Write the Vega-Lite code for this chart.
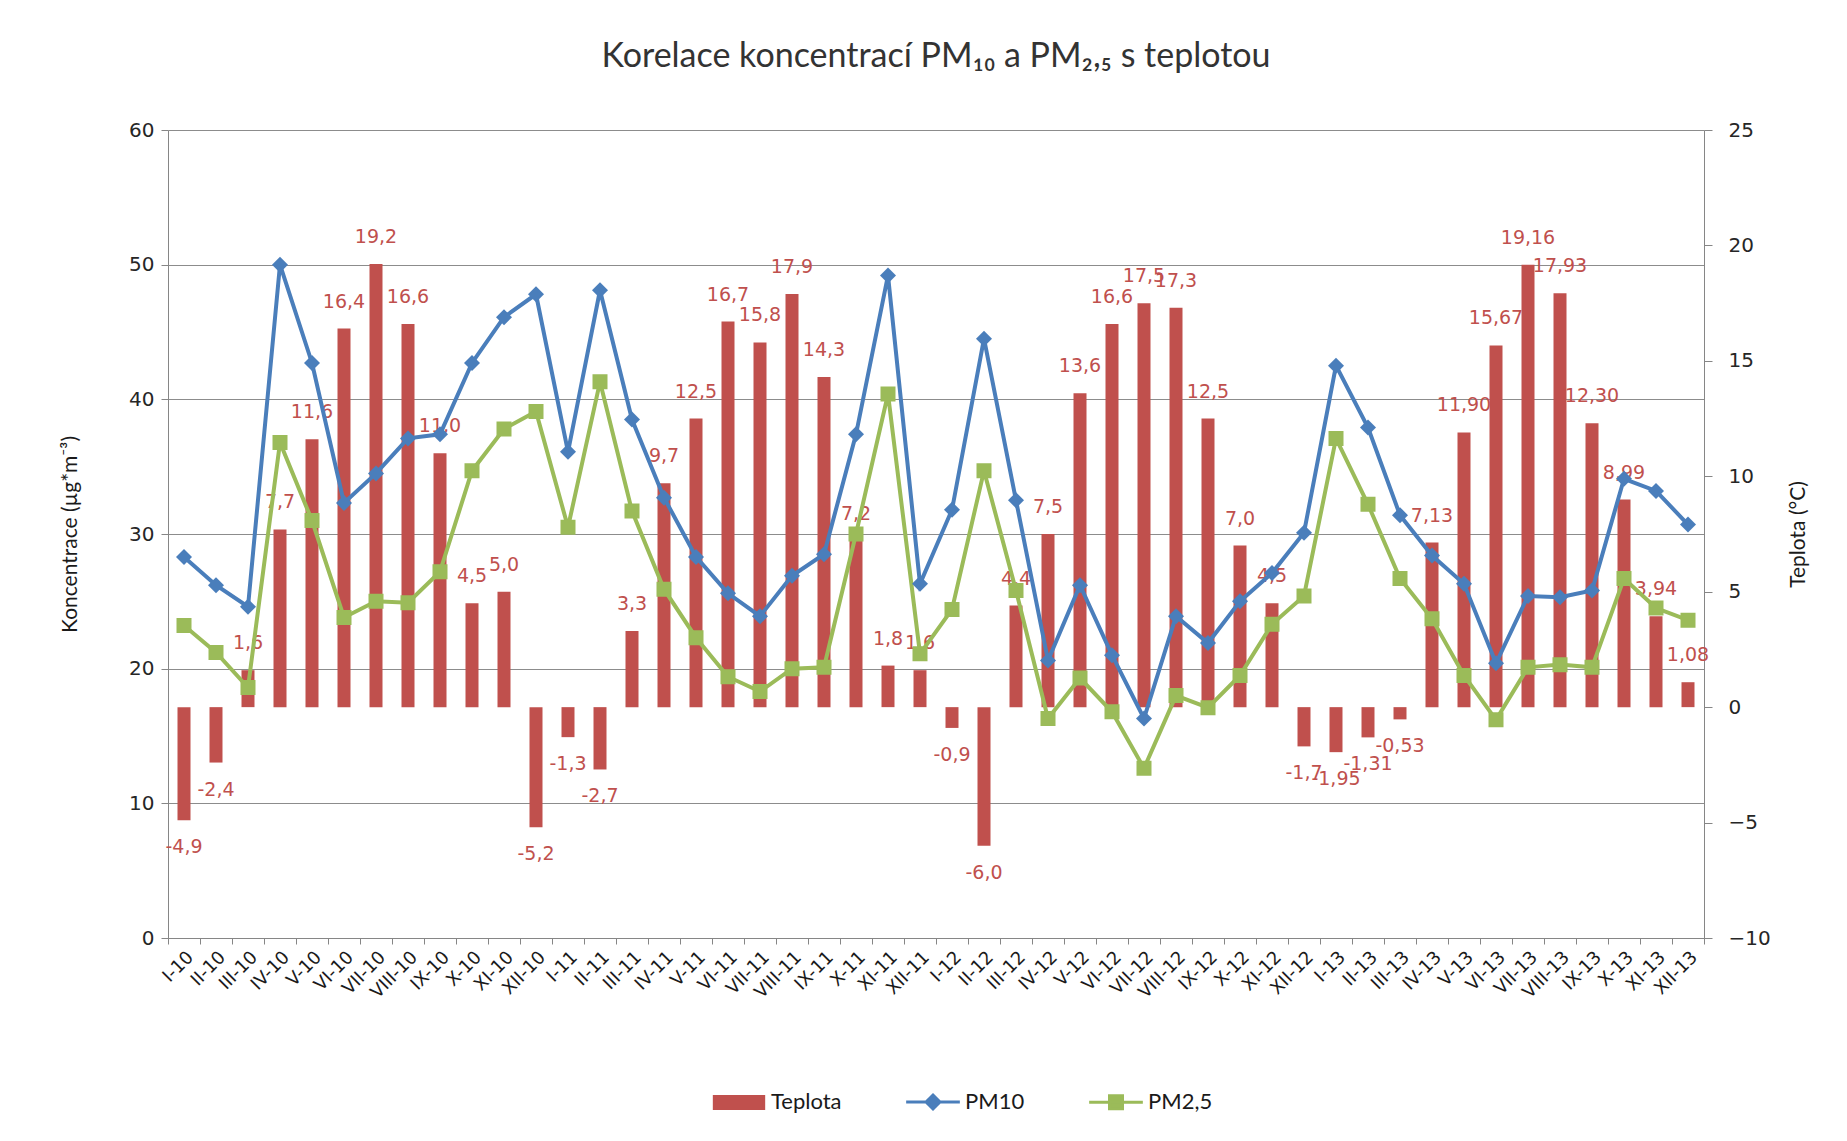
{
  "$schema": "https://vega.github.io/schema/vega-lite/v6.json",
  "width": 1536,
  "height": 808,
  "autosize": {"type": "none"},
  "padding": {"left": 168, "top": 130, "right": 143, "bottom": 203},
  "background": "white",
  "config": {"view": {"stroke": null}},
  "title": {
    "text": "Korelace koncentrací PM₁₀ a PM₂,₅ s teplotou",
    "font": "Lato", "fontSize": 34, "fontWeight": "normal", "color": "#333333",
    "anchor": "middle", "offset": 46
  },
  "data": {"values": [
    {"m": "I-10", "Teplota": -4.9, "lbl": "-4,9", "PM10": 28.3, "PM2,5": 23.2},
    {"m": "II-10", "Teplota": -2.4, "lbl": "-2,4", "PM10": 26.2, "PM2,5": 21.2},
    {"m": "III-10", "Teplota": 1.6, "lbl": "1,6", "PM10": 24.6, "PM2,5": 18.6},
    {"m": "IV-10", "Teplota": 7.7, "lbl": "7,7", "PM10": 50.0, "PM2,5": 36.8},
    {"m": "V-10", "Teplota": 11.6, "lbl": "11,6", "PM10": 42.7, "PM2,5": 31.0},
    {"m": "VI-10", "Teplota": 16.4, "lbl": "16,4", "PM10": 32.3, "PM2,5": 23.8},
    {"m": "VII-10", "Teplota": 19.2, "lbl": "19,2", "PM10": 34.5, "PM2,5": 25.0},
    {"m": "VIII-10", "Teplota": 16.6, "lbl": "16,6", "PM10": 37.1, "PM2,5": 24.9},
    {"m": "IX-10", "Teplota": 11.0, "lbl": "11,0", "PM10": 37.4, "PM2,5": 27.2},
    {"m": "X-10", "Teplota": 4.5, "lbl": "4,5", "PM10": 42.7, "PM2,5": 34.7},
    {"m": "XI-10", "Teplota": 5.0, "lbl": "5,0", "PM10": 46.1, "PM2,5": 37.8},
    {"m": "XII-10", "Teplota": -5.2, "lbl": "-5,2", "PM10": 47.8, "PM2,5": 39.1},
    {"m": "I-11", "Teplota": -1.3, "lbl": "-1,3", "PM10": 36.1, "PM2,5": 30.5},
    {"m": "II-11", "Teplota": -2.7, "lbl": "-2,7", "PM10": 48.1, "PM2,5": 41.3},
    {"m": "III-11", "Teplota": 3.3, "lbl": "3,3", "PM10": 38.5, "PM2,5": 31.7},
    {"m": "IV-11", "Teplota": 9.7, "lbl": "9,7", "PM10": 32.7, "PM2,5": 25.9},
    {"m": "V-11", "Teplota": 12.5, "lbl": "12,5", "PM10": 28.3, "PM2,5": 22.3},
    {"m": "VI-11", "Teplota": 16.7, "lbl": "16,7", "PM10": 25.6, "PM2,5": 19.4},
    {"m": "VII-11", "Teplota": 15.8, "lbl": "15,8", "PM10": 23.9, "PM2,5": 18.3},
    {"m": "VIII-11", "Teplota": 17.9, "lbl": "17,9", "PM10": 26.9, "PM2,5": 20.0},
    {"m": "IX-11", "Teplota": 14.3, "lbl": "14,3", "PM10": 28.5, "PM2,5": 20.1},
    {"m": "X-11", "Teplota": 7.2, "lbl": "7,2", "PM10": 37.4, "PM2,5": 30.0},
    {"m": "XI-11", "Teplota": 1.8, "lbl": "1,8", "PM10": 49.2, "PM2,5": 40.4},
    {"m": "XII-11", "Teplota": 1.6, "lbl": "1,6", "PM10": 26.3, "PM2,5": 21.1},
    {"m": "I-12", "Teplota": -0.9, "lbl": "-0,9", "PM10": 31.8, "PM2,5": 24.4},
    {"m": "II-12", "Teplota": -6.0, "lbl": "-6,0", "PM10": 44.5, "PM2,5": 34.7},
    {"m": "III-12", "Teplota": 4.4, "lbl": "4,4", "PM10": 32.5, "PM2,5": 25.8},
    {"m": "IV-12", "Teplota": 7.5, "lbl": "7,5", "PM10": 20.6, "PM2,5": 16.3},
    {"m": "V-12", "Teplota": 13.6, "lbl": "13,6", "PM10": 26.2, "PM2,5": 19.3},
    {"m": "VI-12", "Teplota": 16.6, "lbl": "16,6", "PM10": 21.0, "PM2,5": 16.8},
    {"m": "VII-12", "Teplota": 17.5, "lbl": "17,5", "PM10": 16.3, "PM2,5": 12.6},
    {"m": "VIII-12", "Teplota": 17.3, "lbl": "17,3", "PM10": 23.9, "PM2,5": 18.0},
    {"m": "IX-12", "Teplota": 12.5, "lbl": "12,5", "PM10": 21.9, "PM2,5": 17.1},
    {"m": "X-12", "Teplota": 7.0, "lbl": "7,0", "PM10": 25.0, "PM2,5": 19.5},
    {"m": "XI-12", "Teplota": 4.5, "lbl": "4,5", "PM10": 27.1, "PM2,5": 23.3},
    {"m": "XII-12", "Teplota": -1.7, "lbl": "-1,7", "PM10": 30.1, "PM2,5": 25.4},
    {"m": "I-13", "Teplota": -1.95, "lbl": "-1,95", "PM10": 42.5, "PM2,5": 37.1},
    {"m": "II-13", "Teplota": -1.31, "lbl": "-1,31", "PM10": 37.9, "PM2,5": 32.2},
    {"m": "III-13", "Teplota": -0.53, "lbl": "-0,53", "PM10": 31.4, "PM2,5": 26.7},
    {"m": "IV-13", "Teplota": 7.13, "lbl": "7,13", "PM10": 28.4, "PM2,5": 23.7},
    {"m": "V-13", "Teplota": 11.9, "lbl": "11,90", "PM10": 26.3, "PM2,5": 19.5},
    {"m": "VI-13", "Teplota": 15.67, "lbl": "15,67", "PM10": 20.4, "PM2,5": 16.2},
    {"m": "VII-13", "Teplota": 19.16, "lbl": "19,16", "PM10": 25.4, "PM2,5": 20.1},
    {"m": "VIII-13", "Teplota": 17.93, "lbl": "17,93", "PM10": 25.3, "PM2,5": 20.3},
    {"m": "IX-13", "Teplota": 12.3, "lbl": "12,30", "PM10": 25.8, "PM2,5": 20.1},
    {"m": "X-13", "Teplota": 8.99, "lbl": "8,99", "PM10": 34.1, "PM2,5": 26.7},
    {"m": "XI-13", "Teplota": 3.94, "lbl": "3,94", "PM10": 33.2, "PM2,5": 24.5},
    {"m": "XII-13", "Teplota": 1.08, "lbl": "1,08", "PM10": 30.7, "PM2,5": 23.6}
  ]},
  "transform": [{"fold": ["Teplota", "PM10", "PM2,5"], "as": ["series", "value"]}],
  "encoding": {
    "x": {
      "field": "m", "type": "nominal", "sort": null,
      "scale": {"type": "band", "paddingInner": 0, "paddingOuter": 0},
      "axis": {
        "title": null, "labelAngle": -45, "labelFont": "DejaVu Sans", "labelFontSize": 18,
        "labelColor": "#1a1a1a", "tickBand": "extent", "tickSize": 6, "tickColor": "#868686",
        "domainColor": "#868686", "labelPadding": 4, "grid": false
      }
    }
  },
  "layer": [
    {
      "transform": [{"filter": "datum.series === 'Teplota'"}],
      "encoding": {
        "y": {
          "field": "value", "type": "quantitative", "stack": null,
          "scale": {"domain": [-10, 25], "nice": false, "zero": false},
          "axis": {
            "orient": "right", "title": "Teplota (°C)", "titleAngle": 270,
            "titleFont": "Lato", "titleFontSize": 21, "titleFontWeight": "normal", "titleColor": "#1a1a1a",
            "titlePadding": 38, "labelFont": "DejaVu Sans", "labelFontSize": 20, "labelColor": "#262626",
            "labelPadding": 16, "tickSize": 8, "tickColor": "#868686", "domainColor": "#868686",
            "values": [-10, -5, 0, 5, 10, 15, 20, 25], "grid": false
          }
        }
      },
      "layer": [
        {
          "mark": {"type": "bar", "size": 13},
          "encoding": {
            "color": {
              "field": "series", "type": "nominal",
              "scale": {"domain": ["Teplota", "PM10", "PM2,5"], "range": ["#C0504D", "#4A7EBB", "#9BBB59"]},
              "legend": {
                "title": null, "orient": "none", "direction": "horizontal", "legendX": 560, "legendY": 961,
                "labelFont": "Lato", "labelFontSize": 22, "labelColor": "#1a1a1a",
                "symbolSize": 300, "columnPadding": 58, "labelOffset": 21,
                "encode": {"symbols": {"update": {
                  "fill": {"scale": "color", "field": "value"},
                  "stroke": {"scale": "color", "field": "value"},
                  "strokeWidth": {"value": 3},
                  "size": {"value": 300},
                  "opacity": {"value": 1}
                }}}
              }
            }
          }
        },
        {
          "transform": [{"filter": "datum.value >= 0"}],
          "mark": {"type": "text", "dy": -27, "baseline": "middle", "font": "DejaVu Sans", "fontSize": 19, "color": "#C0504D"},
          "encoding": {"text": {"field": "lbl"}}
        },
        {
          "transform": [{"filter": "datum.value < 0"}],
          "mark": {"type": "text", "dy": 27, "baseline": "middle", "font": "DejaVu Sans", "fontSize": 19, "color": "#C0504D"},
          "encoding": {"text": {"field": "lbl"}}
        }
      ]
    },
    {
      "transform": [{"filter": "datum.series !== 'Teplota'"}],
      "encoding": {
        "y": {
          "field": "value", "type": "quantitative", "stack": null,
          "scale": {"domain": [0, 60], "nice": false},
          "axis": {
            "orient": "left", "title": "Koncentrace (µg*m⁻³)",
            "titleFont": "Lato", "titleFontSize": 21, "titleFontWeight": "normal", "titleColor": "#1a1a1a",
            "titlePadding": 48, "labelFont": "DejaVu Sans", "labelFontSize": 20, "labelColor": "#262626",
            "labelPadding": 7, "tickSize": 7, "tickColor": "#868686", "domainColor": "#868686",
            "values": [0, 10, 20, 30, 40, 50, 60], "grid": true, "gridColor": "#8C8C8C", "gridWidth": 1
          }
        },
        "color": {"field": "series", "type": "nominal"}
      },
      "layer": [
        {
          "mark": {"type": "line", "strokeWidth": 4},
          "encoding": {"order": {"value": null}}
        },
        {
          "mark": {"type": "point", "filled": true, "size": 400, "opacity": 1},
          "encoding": {
            "shape": {
              "field": "series", "type": "nominal",
              "scale": {
                "domain": ["Teplota", "PM10", "PM2,5"],
                "range": [
                  "M-2.85,-0.7H2.85V0.7H-2.85Z",
                  "M-3.1,0H3.1M0,-0.8L0.8,0L0,0.8L-0.8,0Z",
                  "M-3.1,0H3.1M-0.75,-0.75H0.75V0.75H-0.75Z"
                ]
              },
              "legend": {
                "title": null, "orient": "none", "direction": "horizontal", "legendX": 560, "legendY": 961,
                "labelFont": "Lato", "labelFontSize": 22, "labelColor": "#1a1a1a",
                "symbolSize": 300, "columnPadding": 58, "labelOffset": 21
              }
            }
          }
        }
      ]
    }
  ],
  "resolve": {"scale": {"y": "independent"}}
}
